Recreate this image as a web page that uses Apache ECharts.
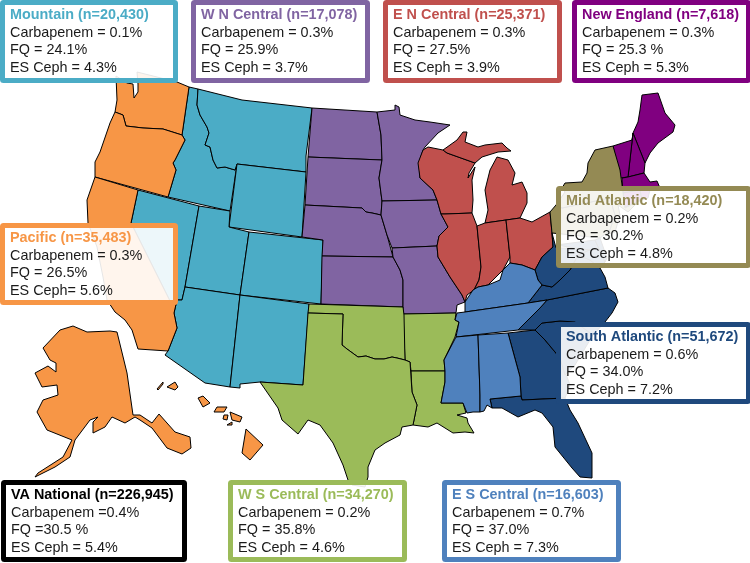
<!DOCTYPE html>
<html><head><meta charset="utf-8">
<style>html,body{margin:0;padding:0;background:#fff}#c{width:750px;height:563px}</style>
<script src="https://cdn.jsdelivr.net/npm/echarts@6/dist/echarts.min.js"></script>
</head><body><div id="c"></div>
<script>
// ---- data ----
const regionNames = ['Mountain','W N Central','E N Central','New England','Mid Atlantic','Pacific','South Atlantic','VA National','W S Central','E S Central'];
const regionN = ['20,430','17,078','25,371','7,618','18,420','35,483','51,672','226,945','34,270','16,603'];
const carbapenemText = ['Carbapenem = 0.1%','Carbapenem = 0.3%','Carbapenem = 0.3%','Carbapenem = 0.3%','Carbapenem = 0.2%','Carbapenem = 0.3%','Carbapenem = 0.6%','Carbapenem =0.4%','Carbapenem = 0.2%','Carbapenem = 0.7%'];
const fqText = ['FQ = 24.1%','FQ = 25.9%','FQ = 27.5%','FQ = 25.3 %','FQ = 30.2%','FQ = 26.5%','FQ = 34.0%','FQ =30.5 %','FQ = 35.8%','FQ = 37.0%'];
const esCephText = ['ES Ceph = 4.3%','ES Ceph = 3.7%','ES Ceph = 3.9%','ES Ceph = 5.3%','ES Ceph = 4.8%','ES Ceph= 5.6%','ES Ceph = 7.2%','ES Ceph = 5.4%','ES Ceph = 4.6%','ES Ceph = 7.3%'];
const regionColors = ['#4bacc6','#8064a2','#c0504d','#800080','#948a54','#f79646','#1f497d','#000000','#9bbb59','#4f81bd'];
// box: left, top, right, bottom
const regionBoxes = [[0,0,178,83],[191,0,370,83],[383,0,562,83],[572,0,751,83],[556,186,751,268],[0,223,178,305],[556,322,751,404],[1,480,187,562],[228,480,407,562],[442,480,621,562]];

// ---- map geometry (own planar map space) ----
const mountainStates = {
 Idaho:[[189,87],[198,89],[197,105],[200,115],[207,127],[209,133],[205,145],[210,147],[213,160],[217,168],[225,167],[235,170],[237,164],[230,211],[168,197],[176,170],[173,163],[175,160],[185,140],[182,135]],
 Montana:[[198,89],[242,100],[312,108],[306,156],[306,172],[237,164],[235,170],[225,167],[217,168],[213,160],[210,147],[205,145],[209,133],[207,127],[200,115],[197,105]],
 Wyoming:[[237,164],[306,172],[302,237],[229,227]],
 Nevada:[[138,190],[199,206],[185,287],[182,300],[177,300],[172,305],[131,223]],
 Utah:[[199,206],[230,211],[229,227],[249,232],[240,295],[185,287]],
 Colorado:[[249,232],[323,240],[321,304],[240,295]],
 Arizona:[[185,287],[240,295],[230,387],[205,383],[165,355],[168,351],[177,328],[174,313],[177,300],[182,300]],
 NewMexico:[[240,295],[309,304],[303,385],[260,382],[240,384],[240,388],[230,387]]
};
const pacificStates = {
 Washington:[[116,76],[127,83],[133,84],[134,98],[138,92],[138,84],[137,72],[177,82],[189,87],[182,135],[163,129],[143,128],[126,126],[123,115],[115,112],[117,100]],
 Oregon:[[115,112],[123,115],[126,126],[143,128],[163,129],[182,135],[185,140],[175,160],[173,163],[176,170],[168,197],[95,177],[95,162],[100,152],[110,123]],
 California:[[95,177],[138,190],[131,223],[172,305],[177,300],[174,313],[177,328],[168,351],[138,349],[132,330],[125,320],[115,312],[107,300],[103,277],[97,247],[88,223],[87,200]],
 Alaska:[[117,332],[127,373],[133,415],[140,415],[152,423],[159,414],[175,432],[190,437],[191,448],[182,454],[167,448],[152,428],[140,420],[135,417],[125,423],[112,417],[105,427],[93,433],[93,422],[98,417],[90,420],[75,440],[70,457],[55,467],[35,477],[38,473],[63,457],[72,440],[47,430],[37,412],[43,400],[58,395],[57,385],[42,387],[35,373],[48,366],[56,372],[56,363],[50,360],[43,348],[60,330],[73,326],[87,332],[110,331]],
 HawaiiBig:[[246,429],[263,445],[250,460],[242,453]],
 Maui:[[230,412],[242,417],[240,422],[232,420]],
 Lanai:[[224,415],[228,415],[227,420],[223,419]],
 Kahoolawe:[[227,425],[232,422],[232,425]],
 Molokai:[[217,407],[227,407],[224,412],[214,412]],
 Oahu:[[198,398],[203,396],[210,403],[203,407]],
 Kauai:[[167,387],[175,382],[178,387],[175,390]],
 Niihau:[[157,389],[163,382],[163,384],[158,390]]
};
const wnCentralStates = {
 NorthDakota:[[312,108],[377,112],[381,135],[382,160],[308,157]],
 SouthDakota:[[308,157],[382,160],[379,178],[382,201],[381,215],[372,213],[366,212],[362,208],[305,205]],
 Nebraska:[[305,205],[362,208],[366,212],[372,213],[381,215],[387,235],[393,257],[322,256],[323,240],[302,237]],
 Kansas:[[322,256],[393,257],[400,270],[403,280],[403,307],[321,304]],
 Minnesota:[[377,112],[395,110],[395,105],[399,107],[400,115],[415,120],[430,122],[450,125],[438,133],[425,147],[423,150],[419,163],[420,178],[433,190],[437,200],[382,201],[379,178],[382,160],[381,135]],
 Iowa:[[382,201],[437,200],[441,214],[448,227],[439,236],[437,246],[392,248],[387,235],[381,215]],
 Missouri:[[392,248],[437,246],[438,257],[450,277],[462,295],[465,302],[457,305],[456,313],[403,314],[403,280],[400,270],[393,257]]
};
const wsCentralStates = {
 Arkansas:[[403,314],[456,313],[455,320],[459,322],[455,337],[444,360],[445,371],[411,371],[410,362],[405,360]],
 Louisiana:[[411,371],[445,371],[445,382],[441,403],[463,403],[466,413],[457,415],[467,418],[468,423],[474,433],[465,432],[453,433],[445,428],[437,423],[428,427],[413,425],[417,405],[412,392]],
 Oklahoma:[[309,304],[403,307],[404,315],[405,360],[397,358],[392,357],[384,359],[375,359],[366,356],[358,357],[347,349],[342,345],[343,314],[308,313]],
 Texas:[[308,313],[343,314],[342,345],[347,349],[358,357],[366,356],[375,359],[384,359],[392,357],[397,358],[405,360],[410,362],[412,392],[417,405],[413,425],[402,427],[400,435],[385,443],[375,450],[368,467],[368,477],[365,487],[352,485],[348,480],[343,465],[333,443],[320,425],[308,420],[298,434],[282,420],[278,408],[260,382],[303,385]]
};
const enCentralStates = {
 Wisconsin:[[423,150],[428,147],[443,150],[447,153],[475,163],[469,173],[468,178],[475,167],[472,180],[473,200],[472,213],[445,214],[441,214],[437,200],[433,190],[420,178],[418,163]],
 MichiganUpper:[[443,150],[457,140],[463,132],[467,132],[465,142],[478,147],[485,145],[502,143],[507,148],[511,151],[498,152],[482,157],[475,163],[447,153]],
 MichiganLower:[[497,157],[508,160],[515,173],[512,185],[522,182],[527,193],[527,203],[520,218],[485,223],[488,210],[485,190],[490,170]],
 Illinois:[[445,214],[472,213],[477,226],[481,267],[479,280],[474,290],[467,295],[465,302],[462,295],[450,277],[438,257],[437,246],[439,236],[448,227],[441,214]],
 Indiana:[[477,226],[485,223],[506,220],[510,257],[503,270],[495,278],[488,285],[478,287],[474,290],[479,280],[481,267]],
 Ohio:[[506,220],[520,218],[532,222],[550,212],[552,233],[553,247],[542,257],[535,270],[522,265],[510,263],[510,257]]
};
const esCentralStates = {
 Kentucky:[[465,312],[465,302],[473,290],[478,287],[488,285],[500,280],[503,270],[510,263],[522,265],[535,270],[538,280],[542,285],[528,303]],
 Tennessee:[[457,313],[465,312],[528,303],[547,300],[540,308],[528,320],[518,330],[456,337],[459,322],[455,320]],
 Mississippi:[[456,337],[478,335],[480,395],[480,412],[473,412],[467,413],[463,403],[441,403],[445,382],[445,371],[444,360]],
 Alabama:[[478,335],[508,333],[520,377],[521,396],[490,399],[492,408],[487,405],[484,411],[480,412],[480,395]]
};
const southAtlanticStates = {
 Georgia:[[508,333],[535,330],[545,340],[560,358],[570,385],[565,398],[522,400],[521,396],[520,377]],
 Florida:[[490,399],[521,396],[522,400],[565,398],[570,410],[578,423],[592,453],[592,478],[580,477],[572,468],[555,447],[553,427],[542,413],[535,410],[518,417],[502,408],[492,408]],
 SouthCarolina:[[535,330],[542,323],[560,321],[575,322],[593,335],[575,365],[565,375],[560,358],[545,340]],
 NorthCarolina:[[547,300],[608,288],[615,293],[618,302],[612,313],[605,322],[593,335],[575,322],[560,321],[542,323],[535,330],[518,330],[528,320],[540,308]],
 Virginia:[[528,303],[542,285],[552,287],[560,280],[570,270],[578,255],[590,260],[600,268],[605,277],[608,288],[547,300]],
 WestVirginia:[[552,233],[553,247],[542,257],[535,270],[538,280],[542,285],[552,287],[560,280],[570,270],[578,255],[590,250],[575,248],[556,248]],
 Maryland:[[556,245],[595,240],[605,262],[600,268],[590,260],[578,255],[590,250],[575,248]],
 Delaware:[[595,240],[600,238],[607,258],[605,262]]
};
const midAtlanticStates = {
 Pennsylvania:[[550,212],[556,205],[562,208],[610,198],[615,215],[610,230],[600,238],[552,233]],
 NewYork:[[556,205],[565,192],[562,188],[565,183],[582,182],[587,173],[588,163],[595,150],[613,146],[620,170],[622,185],[624,200],[625,208],[640,200],[628,212],[618,205],[610,198],[562,208]],
 NewJersey:[[610,198],[618,205],[620,215],[615,232],[605,235],[610,230],[615,215]]
};
const newEnglandStates = {
 Maine:[[642,95],[658,93],[665,113],[675,125],[673,132],[658,143],[650,153],[645,163],[633,133],[638,122],[640,110]],
 NewHampshire:[[633,133],[645,163],[644,173],[628,177]],
 Vermont:[[613,146],[632,140],[633,133],[628,177],[620,178]],
 Massachusetts:[[622,178],[628,177],[644,173],[650,182],[657,181],[660,188],[650,190],[623,193]],
 Connecticut:[[623,193],[640,190],[642,200],[625,207]],
 RhodeIsland:[[640,190],[650,190],[648,198],[642,200]]
};
const regionStates = {
 'Mountain':mountainStates,'W N Central':wnCentralStates,'E N Central':enCentralStates,'New England':newEnglandStates,
 'Mid Atlantic':midAtlanticStates,'Pacific':pacificStates,'South Atlantic':southAtlanticStates,'W S Central':wsCentralStates,'E S Central':esCentralStates
};

const features = [], seriesData = [];
let x0=1e9,y0=1e9,x1=-1e9,y1=-1e9;
Object.keys(regionStates).forEach(r=>{
  const idx = regionNames.indexOf(r), shapes = regionStates[r];
  Object.keys(shapes).forEach(s=>{
    const ring = shapes[s].concat([shapes[s][0]]);
    ring.forEach(p=>{x0=Math.min(x0,p[0]);x1=Math.max(x1,p[0]);y0=Math.min(y0,p[1]);y1=Math.max(y1,p[1]);});
    features.push({type:'Feature',properties:{name:s},geometry:{type:'Polygon',coordinates:[ring]}});
    seriesData.push({name:s,value:parseInt(regionN[idx].replace(',','')),itemStyle:{areaColor:regionColors[idx]}});
  });
});
echarts.registerMap('vaRegions',{type:'FeatureCollection',features});

const FONT='"Liberation Sans", Arial, sans-serif', FS=14.4, LH=17.4;
const graphics=[];
regionNames.forEach((name,i)=>{
  const b=regionBoxes[i], c=regionColors[i];
  graphics.push({type:'rect',z:100,shape:{x:b[0]+2.5,y:b[1]+2.5,width:b[2]-b[0]-5,height:b[3]-b[1]-5,r:1},
    style:{fill:'rgba(255,255,255,0.9)',stroke:c,lineWidth:5}});
  const tx=b[0]+10, ty=b[1]+15.5;
  const lines=[[name+' (n='+regionN[i]+')',c,'bold'],[carbapenemText[i],'#1a1a1a','normal'],[fqText[i],'#1a1a1a','normal'],[esCephText[i],'#1a1a1a','normal']];
  lines.forEach((l,k)=>graphics.push({type:'text',z:101,x:tx,y:ty+k*LH,
    style:{text:l[0],fill:l[1],font:l[2]+' '+FS+'px '+FONT,textVerticalAlign:'middle',verticalAlign:'middle'}}));
});

const chart=echarts.init(document.getElementById('c'),null,{renderer:'canvas'});
chart.setOption({
  animation:false,
  backgroundColor:'#fff',
  series:[{
    type:'map',map:'vaRegions',roam:false,silent:true,
    projection:{project:p=>p,unproject:p=>p},
    left:x0,top:y0,width:x1-x0,height:y1-y0,
    label:{show:false},
    itemStyle:{borderColor:'#000',borderWidth:1},
    data:seriesData
  }],
  graphic:{elements:graphics}
});
</script></body></html>
